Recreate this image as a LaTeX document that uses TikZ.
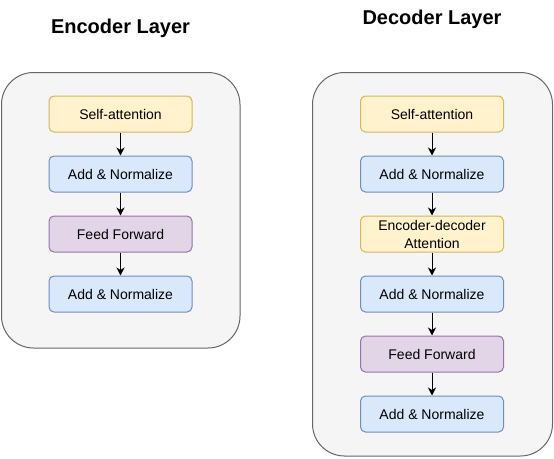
\documentclass[tikz,border=0pt]{standalone}
\usepackage{fontspec}
\setmainfont{Liberation Sans}
\usetikzlibrary{arrows.meta}
\definecolor{contfill}{HTML}{F5F5F5}
\definecolor{contline}{HTML}{666666}
\definecolor{yfill}{HTML}{FFF2CC}
\definecolor{yline}{HTML}{D6B656}
\definecolor{bfill}{HTML}{DAE8FC}
\definecolor{bline}{HTML}{6C8EBF}
\definecolor{pfill}{HTML}{E1D5E7}
\definecolor{pline}{HTML}{9673A6}
\tikzset{
  container/.style={draw=contline, fill=contfill, line width=1pt, rounded corners=32pt},
  block/.style={rounded corners=5pt, line width=1pt, minimum width=143pt, minimum height=36pt,
    inner sep=0pt, align=center, font=\fontsize{14}{18}\selectfont},
  yblock/.style={block, draw=yline, fill=yfill},
  bblock/.style={block, draw=bline, fill=bfill},
  pblock/.style={block, draw=pline, fill=pfill},
  title/.style={font=\fontsize{20}{24}\selectfont\bfseries},
  flow/.style={draw=black, line width=1pt, -{Stealth[length=8pt,width=8pt,inset=2.5pt]}}
}
\begin{document}
\begin{tikzpicture}[x=1pt,y=-1pt]
\useasboundingbox (0,0) rectangle (554,458);
% titles
\node[title] (enct) at (120.5,28) {Encoder Layer};
\node[title] (dect) at (432,19) {Decoder Layer};
% containers
\draw[container] (1.5,72.5) rectangle (240,348);
\draw[container] (312.5,72.5) rectangle (552.5,456);
% encoder
\node[yblock] (e1) at (120.5,114) {Self-attention};
\node[bblock] (e2) at (120.5,174) {Add \& Normalize};
\node[pblock] (e3) at (120.5,234) {Feed Forward};
\node[bblock] (e4) at (120.5,294) {Add \& Normalize};
\draw[flow] (e1) -- (e2);
\draw[flow] (e2) -- (e3);
\draw[flow] (e3) -- (e4);
% decoder
\node[yblock] (d1) at (432,114) {Self-attention};
\node[bblock] (d2) at (432,174) {Add \& Normalize};
\node[yblock] (d3) at (432,234) {Encoder-decoder\\Attention};
\node[bblock] (d4) at (432,294) {Add \& Normalize};
\node[pblock] (d5) at (432,354) {Feed Forward};
\node[bblock] (d6) at (432,414) {Add \& Normalize};
\draw[flow] (d1) -- (d2);
\draw[flow] (d2) -- (d3);
\draw[flow] (d3) -- (d4);
\draw[flow] (d4) -- (d5);
\draw[flow] (d5) -- (d6);
\end{tikzpicture}
\end{document}
